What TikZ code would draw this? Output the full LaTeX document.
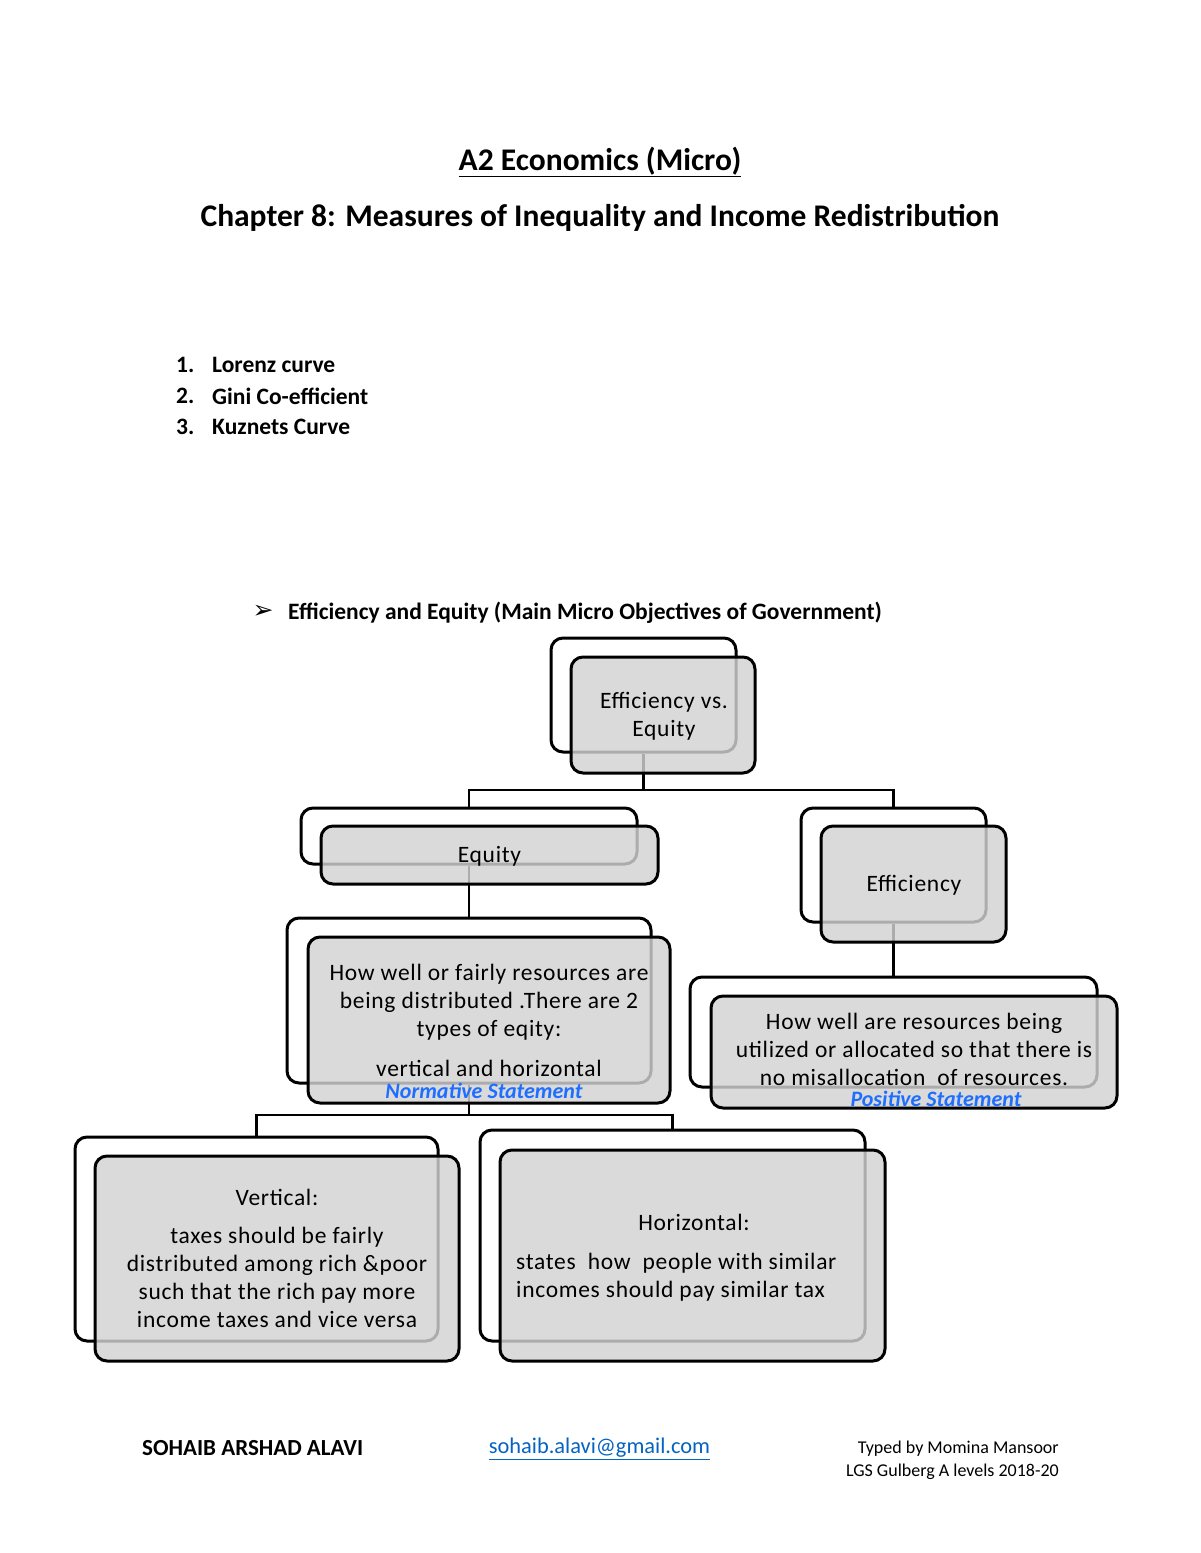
\documentclass[tikz,border=0pt]{standalone}
\usepackage{fontspec}
\setmainfont{Carlito}
\newfontfamily\boxfont[LetterSpace=3]{Carlito}
\usetikzlibrary{calc}
\definecolor{boxgray}{HTML}{D3D3D3}
\definecolor{pen}{HTML}{1E6EFF}
\definecolor{linkblue}{HTML}{0563C1}
\tikzset{
  backbox/.style={draw=black, line width=3pt, rounded corners=12pt, fill=white, inner sep=0pt},
  frontbox/.style={draw=black, line width=3pt, rounded corners=12pt, fill=boxgray, fill opacity=0.82, text opacity=1, inner sep=0pt, align=center},
  conn/.style={draw=black, line width=2.5pt},
  boxtext/.style={font=\boxfont\fontsize{23.5}{28}\selectfont, align=center, inner sep=0pt},
  hand/.style={font=\fontsize{22}{22}\selectfont\itshape\bfseries, text=pen, inner sep=0pt},
  plain/.style={inner sep=0pt}
}
\begin{document}
\begin{tikzpicture}[x=1pt,y=-1pt]
\useasboundingbox (0,0) rectangle (1200,1553);
\fill[white] (0,0) rectangle (1200,1553);

% titles
\node[plain, font=\fontsize{31.5}{34}\selectfont\bfseries] (t1) at (600,162) {\underline{A2 Economics (Micro)}};
\node[plain, font=\fontsize{31.5}{34}\selectfont\bfseries] (t2) at (600,218) {Chapter 8: Measures of Inequality and Income Redistribution};

% list
\node[plain, anchor=west, font=\fontsize{23.5}{26}\selectfont\bfseries] (n1) at (176,365) {1.};
\node[plain, anchor=west, font=\fontsize{23.5}{26}\selectfont\bfseries] (l1) at (212,365) {Lorenz curve};
\node[plain, anchor=west, font=\fontsize{23.5}{26}\selectfont\bfseries] (n2) at (176,396) {2.};
\node[plain, anchor=west, font=\fontsize{23.5}{26}\selectfont\bfseries] (l2) at (212,396) {Gini Co-efficient};
\node[plain, anchor=west, font=\fontsize{23.5}{26}\selectfont\bfseries] (n3) at (176,427) {3.};
\node[plain, anchor=west, font=\fontsize{23.5}{26}\selectfont\bfseries] (l3) at (212,427) {Kuznets Curve};

% bullet heading
\node[plain, anchor=center, font=\fontsize{25}{28}\selectfont] (arr) at (263,612) {\fontspec{DejaVu Sans}➢};
\node[plain, anchor=west, font=\fontsize{23.5}{26}\selectfont\bfseries] (head) at (288,613) {Efficiency and Equity (Main Micro Objectives of Government)};

% junction coordinates
\coordinate (j1) at (643.5,790);
\coordinate (j2) at (469,1115);

% back boxes
\node[backbox, minimum width=185pt, minimum height=114pt] (b1) at (643.5,695) {};
\node[backbox, minimum width=336pt, minimum height=56pt] (b2) at (469,836) {};
\node[backbox, minimum width=185pt, minimum height=114pt] (b4) at (893.5,865) {};
\node[backbox, minimum width=364pt, minimum height=165pt] (b3) at (469,1000.5) {};
\node[backbox, minimum width=407pt, minimum height=110pt] (b5) at (893.5,1032) {};
\node[backbox, minimum width=363pt, minimum height=204pt] (b6) at (256.5,1239) {};
\node[backbox, minimum width=385pt, minimum height=211pt] (b7) at (672.5,1235.5) {};

% connectors
\draw[conn] (b1.south) -- (j1);
\draw[conn] (j1) -| (b2.north);
\draw[conn] (j1) -| (b4.north);
\draw[conn] (b2.south) -- (b3.north);
\draw[conn] (b4.south) -- (b5.north);
\draw[conn] (b3.south) -- (j2);
\draw[conn] (j2) -| (b6.north);
\draw[conn] (j2) -| (b7.north);

% front boxes
\node[frontbox, minimum width=184pt, minimum height=116pt] (f1) at (663,715) {};
\node[frontbox, minimum width=337pt, minimum height=58pt] (f2) at (489.5,855) {};
\node[frontbox, minimum width=185pt, minimum height=116pt] (f4) at (913.5,884) {};
\node[frontbox, minimum width=362pt, minimum height=166pt] (f3) at (489,1020) {};
\node[frontbox, minimum width=406pt, minimum height=112pt] (f5) at (914,1052) {};
\node[frontbox, minimum width=364pt, minimum height=205pt] (f6) at (277,1258.5) {};
\node[frontbox, minimum width=385pt, minimum height=211pt] (f7) at (692.5,1255.5) {};

% box texts
\node[boxtext] (x1) at (664,716) {Efficiency vs.\\Equity};
\node[boxtext] (x2) at (489.5,856) {Equity};
\node[boxtext] (x4) at (914,885) {Efficiency};
\node[boxtext, anchor=north] (x3) at (489,964) {How well or fairly resources are\\being distributed .There are 2\\types of eqity:\\[12pt]vertical and horizontal};
\node[boxtext, anchor=north] (x5) at (914,1013) {How well are resources being\\utilized or allocated so that there is\\no misallocation\ \ of resources.};
\node[boxtext, anchor=north] (x6a) at (277,1189) {Vertical:};
\node[boxtext, anchor=north] (x6b) at (277,1227) {taxes should be fairly\\distributed among rich \&poor\\such that the rich pay more\\income taxes and vice versa};
\node[boxtext] (x7a) at (694,1222) {Horizontal:};
\node[boxtext, anchor=north west, align=left] (x7b) at (516,1253) {states\ \ how\ \ people with similar\\incomes should pay similar tax};

% handwritten notes
\node[hand] (h1) at (484,1091) {Normative Statement};
\node[hand] (h2) at (936,1099) {Positive Statement};

% footer
\node[plain, anchor=west, font=\fontsize{23}{26}\selectfont\bfseries] (ft1) at (142,1448) {SOHAIB ARSHAD ALAVI};
\node[plain, font=\fontsize{22.4}{26}\selectfont, text=linkblue] (ft2) at (599.5,1449) {\underline{sohaib.alavi@gmail.com}};
\node[plain, anchor=east, font=\fontsize{18}{22}\selectfont] (ft3) at (1059,1449) {Typed by Momina Mansoor};
\node[plain, anchor=east, font=\fontsize{18}{22}\selectfont] (ft4) at (1059,1472) {LGS Gulberg A levels 2018-20};
\end{tikzpicture}
\end{document}
